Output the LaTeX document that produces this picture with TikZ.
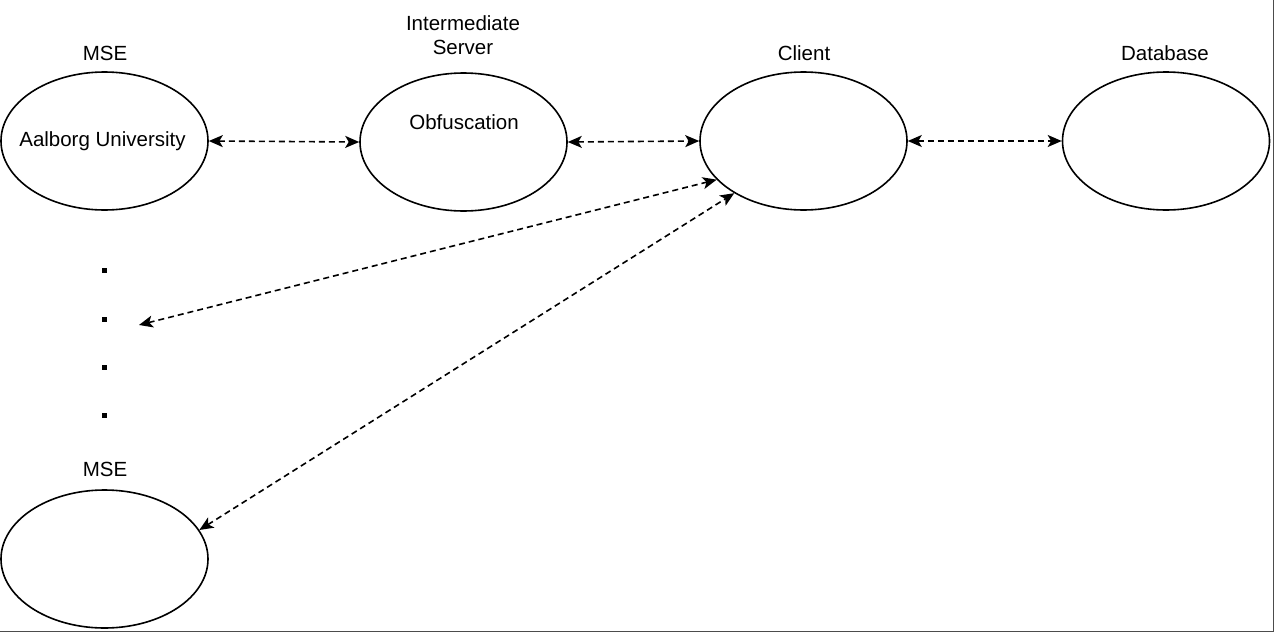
\documentclass[tikz,border=0pt]{standalone}
\usepackage{fontspec}
\setmainfont{Liberation Sans}
\usetikzlibrary{shapes.geometric,arrows.meta}
\begin{document}
\begin{tikzpicture}[x=1pt,y=-1pt,
  ell/.style={draw, ellipse, line width=1.6pt, minimum width=207pt, minimum height=138pt, inner sep=0pt},
  lbl/.style={font=\fontsize{20.5}{24}\selectfont, inner sep=0pt},
  link/.style={dashed, dash pattern=on 6pt off 4pt, line width=1.6pt, {Stealth[length=14pt,width=12pt,inset=3.5pt]}-{Stealth[length=14pt,width=12pt,inset=3.5pt]}},
  dotbox/.style={fill=black, minimum size=5pt, inner sep=0pt},
  frame/.style={draw=black!70, line width=1.5pt}]
\useasboundingbox (0,0) rectangle (1274,632);
\draw[frame] (0,631.3) -- (1273.3,631.3) -- (1273.3,0);

\node[ell] (mse1) at (104.5,141) {};
\node[ell] (inter) at (463.5,142) {};
\node[ell] (client) at (803.5,141) {};
\node[ell] (db) at (1166,141) {};
\node[ell] (mse2) at (104.5,559) {};

\node[lbl] (t1) at (105,53) {MSE};
\node[lbl] (t2) at (463,23) {Intermediate};
\node[lbl] (t3) at (463,47.5) {Server};
\node[lbl] (t4) at (804,53) {Client};
\node[lbl] (t5) at (1165,53) {Database};
\node[lbl] (t6) at (105,469) {MSE};
\node[lbl] (aau) at (102.5,141) {Aalborg University};
\node[lbl] (obf) at (464,122) {Obfuscation};

\node[dotbox] (d1) at (104.5,270.5) {};
\node[dotbox] (d2) at (104.5,319) {};
\node[dotbox] (d3) at (104.5,367) {};
\node[dotbox] (d4) at (104.5,415.5) {};

\coordinate (free) at (139,325);

\draw[link] (mse1.east) -- (inter.west);
\draw[link] (inter.east) -- (client.west);
\draw[link] (client.east) -- (db.west);
\draw[link] (free) -- (client.204);
\draw[link] (mse2.17) -- (client.217);
\end{tikzpicture}
\end{document}
